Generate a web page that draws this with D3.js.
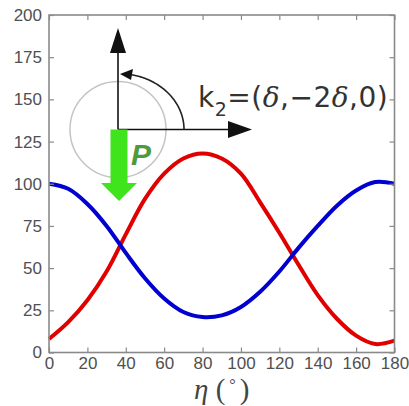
<!DOCTYPE html>
<html>
<head>
<meta charset="utf-8">
<script src="https://cdn.jsdelivr.net/npm/d3@7"></script>
<style>
  html, body { margin: 0; padding: 0; background: #fff; }
  svg { display: block; }
</style>
</head>
<body>
<svg id="chart" width="409" height="406"></svg>
<script>
// Angle eta (degrees) and the two intensity curves
const eta = [0, 10, 20, 30, 40, 50, 60, 70, 80, 90, 100, 110, 120, 130, 140, 150, 160, 170, 180];
const blueSeries = [100, 97, 88, 75, 59, 44, 32, 24, 21, 22, 27, 36, 48, 62, 75, 87, 96, 101, 100];
const redSeries  = [8, 18, 31, 48, 70, 91, 106, 115, 118, 115, 106, 89, 71, 52, 34, 20, 10, 5, 7];

const xTicks = [0, 20, 40, 60, 80, 100, 120, 140, 160, 180];
const yTicks = [0, 25, 50, 75, 100, 125, 150, 175, 200];

const svg = d3.select("#chart");
const plotLeft = 49, plotRight = 394.5, plotTop = 15, plotBottom = 352.5;

const x = d3.scaleLinear().domain([0, 180]).range([plotLeft, plotRight]);
const y = d3.scaleLinear().domain([0, 200]).range([plotBottom, plotTop]);

const axisColor = "#8a8a8a";
const labelColor = "#505050";

// Curves
const line = d3.line()
  .x((d, i) => x(eta[i]))
  .y(d => y(d))
  .curve(d3.curveCatmullRom.alpha(0.5));

svg.append("path").datum(redSeries)
  .attr("d", line).attr("fill", "none")
  .attr("stroke", "#e00000").attr("stroke-width", 4);
svg.append("path").datum(blueSeries)
  .attr("d", line).attr("fill", "none")
  .attr("stroke", "#0000d0").attr("stroke-width", 4);

// Axes with inward ticks on all four sides
function styleAxis(g) {
  g.select(".domain").remove();
  g.selectAll(".tick line").attr("stroke", axisColor).attr("stroke-width", 1.2);
  g.selectAll(".tick text").attr("fill", labelColor)
    .attr("font-family", "Liberation Sans, Arial, sans-serif").attr("font-size", 17);
}

svg.append("g").attr("transform", `translate(0,${plotBottom})`)
  .call(d3.axisBottom(x).tickValues(xTicks).tickSizeInner(-5).tickSizeOuter(0).tickPadding(4))
  .call(styleAxis);
svg.append("g").attr("transform", `translate(0,${plotTop})`)
  .call(d3.axisTop(x).tickValues(xTicks).tickSizeInner(-5).tickSizeOuter(0).tickFormat(""))
  .call(styleAxis);
svg.append("g").attr("transform", `translate(${plotLeft},0)`)
  .call(d3.axisLeft(y).tickValues(yTicks).tickSizeInner(-5).tickSizeOuter(0).tickPadding(7))
  .call(styleAxis);
svg.append("g").attr("transform", `translate(${plotRight},0)`)
  .call(d3.axisRight(y).tickValues(yTicks).tickSizeInner(-5).tickSizeOuter(0).tickFormat(""))
  .call(styleAxis);

// Frame
svg.append("rect")
  .attr("x", plotLeft).attr("y", plotTop)
  .attr("width", plotRight - plotLeft).attr("height", plotBottom - plotTop)
  .attr("fill", "none").attr("stroke", axisColor).attr("stroke-width", 1.6);

// x-axis title
const xt = svg.append("text")
  .attr("x", (plotLeft + plotRight) / 2).attr("y", 399)
  .attr("text-anchor", "middle")
  .attr("font-family", "Liberation Serif, DejaVu Serif, serif")
  .attr("font-size", 29).attr("fill", "#444");
xt.append("tspan").attr("font-style", "italic").text("η");
xt.append("tspan").text(" (");
xt.append("tspan").attr("font-size", 16).attr("dy", -9).text(" ° ");
xt.append("tspan").attr("dy", 9).text(")");

// Polarisation diagram
const ox = 118, oy = 129.5;
const dg = svg.append("g");

dg.append("circle").attr("cx", ox).attr("cy", oy).attr("r", 48)
  .attr("fill", "none").attr("stroke", "#c4c4c4").attr("stroke-width", 1.5);

// vertical arrow
dg.append("line").attr("x1", ox).attr("y1", oy).attr("x2", ox).attr("y2", 50)
  .attr("stroke", "#111").attr("stroke-width", 1.6);
dg.append("path").attr("d", `M${ox},28 L${ox - 8},53 L${ox + 8},53 Z`).attr("fill", "#111");

// horizontal arrow
dg.append("line").attr("x1", ox).attr("y1", oy).attr("x2", 230).attr("y2", oy)
  .attr("stroke", "#111").attr("stroke-width", 1.6);
dg.append("path").attr("d", `M252,${oy} L228,${oy - 8.5} L228,${oy + 8.5} Z`).attr("fill", "#111");

// angle arc (elliptical) with arrow head at the vertical axis
const rx = 66, ry = 56;
const arcPts = d3.range(0, 86, 1).map(a => {
  const t = a * Math.PI / 180;
  return [ox + rx * Math.cos(t), oy - ry * Math.sin(t)];
});
dg.append("path").attr("d", d3.line()(arcPts))
  .attr("fill", "none").attr("stroke", "#222").attr("stroke-width", 1.6);
dg.append("path").attr("d", `M120,74 L133,69 L131,80 Z`).attr("fill", "#111");

// green polarisation arrow
dg.append("path")
  .attr("d", `M110.5,${oy} L127.5,${oy} L127.5,183 L137,183 L119,201 L101,183 L110.5,183 Z`)
  .attr("fill", "#3fe41c");
dg.append("text").attr("x", 131).attr("y", 165)
  .attr("font-family", "Liberation Sans, Arial, sans-serif")
  .attr("font-size", 30).attr("font-weight", "bold").attr("font-style", "italic")
  .attr("fill", "#4f9a3c").text("P");

// wave-vector label
const kt = svg.append("text").attr("x", 198).attr("y", 107)
  .attr("font-family", "DejaVu Sans, sans-serif")
  .attr("font-size", 28).attr("fill", "#333").attr("letter-spacing", 0.5);
kt.append("tspan").text("k");
kt.append("tspan").attr("font-size", 19).attr("dy", 9).text("2");
kt.append("tspan").attr("dy", -9).text("=(");
kt.append("tspan").attr("font-family", "DejaVu Serif, serif").attr("font-style", "italic").text("δ");
kt.append("tspan").text(",−2");
kt.append("tspan").attr("font-family", "DejaVu Serif, serif").attr("font-style", "italic").text("δ");
kt.append("tspan").text(",0)");
</script>
</body>
</html>
